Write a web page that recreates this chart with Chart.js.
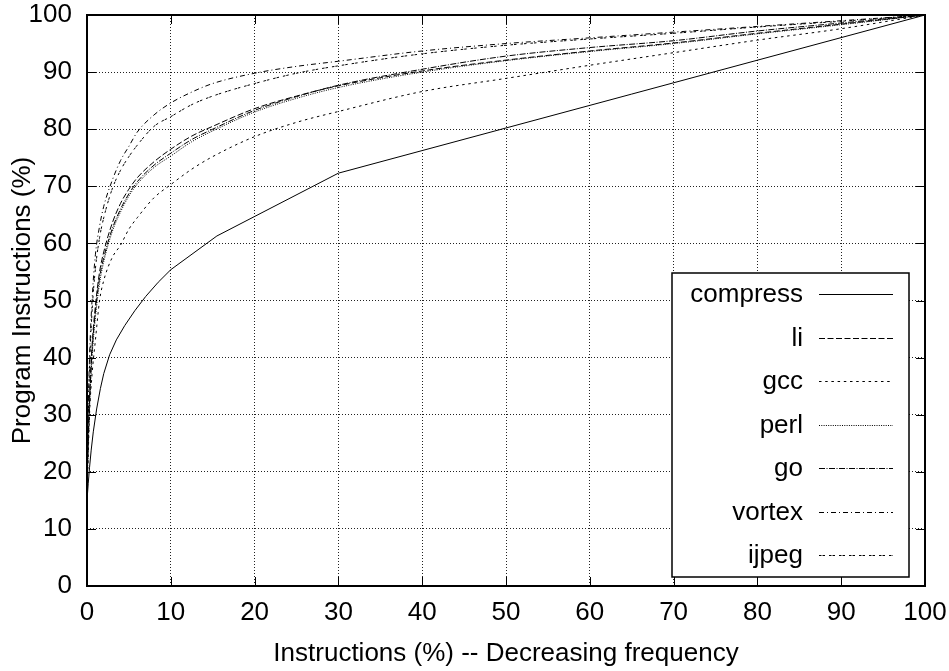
<!DOCTYPE html>
<html>
<head>
<meta charset="utf-8">
<script src="https://cdn.jsdelivr.net/npm/chart.js@4/dist/chart.umd.min.js"></script>
<style>
  html, body { margin: 0; padding: 0; background: #fff; }
  #wrap { width: 949px; height: 671px; }
</style>
</head>
<body>
<div id="wrap"><canvas id="freqChart" width="949" height="671"></canvas></div>
<script>
// Cumulative share of executed instructions, static instructions sorted by decreasing frequency
const xPoints = [0, 0.3, 0.6, 1, 1.5, 2, 3, 4, 5, 6, 8, 10, 12.5, 15, 20, 25, 30, 40, 50, 60, 70, 80, 90, 100];

const liValues     = [18, 33, 42, 49, 55, 58.5, 63.5, 67, 69.5, 71.5, 74.3, 76.5, 78.8, 80.5, 83.6, 85.8, 87.6, 90.2, 92.1, 93.7, 95.1, 96.8, 98.4, 100];
const gccValues    = [15, 30, 37, 43, 50, 53.5, 57.5, 59.7, 62.5, 64.5, 68, 70.3, 73, 75.2, 78.7, 81.2, 83.1, 86.6, 88.9, 91.2, 93.4, 95.6, 97.6, 100];
const perlValues   = [17, 31, 40, 47, 53, 56.8, 62, 65.5, 68.3, 70.4, 73.3, 75.3, 77.8, 79.7, 83, 85.4, 87.3, 90, 92, 93.6, 95, 96.7, 98.3, 100];
const goValues     = [18, 32, 41, 48, 54, 57.5, 62.5, 66, 68.7, 70.8, 73.7, 75.8, 78.2, 80, 83.3, 85.7, 87.7, 90.5, 92.8, 94.3, 95.5, 97.2, 98.6, 100];
const vortexValues = [22, 40, 50, 58, 63, 66.5, 71, 74.5, 77, 79.5, 82.5, 84.6, 86.5, 88, 89.8, 91, 91.9, 93.7, 95, 96, 97, 98, 99, 100];
const ijpegValues  = [20, 38, 48, 55.5, 61, 64.5, 69.5, 72.8, 75.2, 77.2, 80.5, 82.2, 84.3, 85.8, 88, 89.8, 91.1, 93.2, 94.7, 95.8, 96.8, 97.9, 98.9, 100];

// compress has its own breakpoints (curved start, then straight pieces)
const compressX = [0, 0.15, 0.3, 0.5, 0.75, 1.15, 1.6, 2, 2.7, 3.5, 4.5, 5.7, 7, 8.5, 10, 15.5, 30, 100];
const compressY = [15, 18, 20.7, 23.8, 27, 31, 34.6, 37.2, 40.5, 43.1, 45.6, 48.2, 50.7, 53.2, 55.4, 61.3, 72.3, 100];

const axisMin = 0;
const axisMax = 100;
const tickStep = 10;

const FONT = "'Liberation Sans', Arial, Helvetica, sans-serif";
Chart.defaults.font.family = FONT;
Chart.defaults.color = '#000';

function pairs(xs, ys) {
  return xs.map((x, i) => ({ x: x, y: ys[i] }));
}

function series(label, xs, ys, dash) {
  return {
    label: label,
    data: pairs(xs, ys),
    borderColor: '#000',
    borderWidth: 1,
    borderDash: dash,
    pointRadius: 0,
    fill: false,
    cubicInterpolationMode: 'monotone'
  };
}

const datasets = [
  Object.assign(series('compress', compressX, compressY, []), { cubicInterpolationMode: 'default', tension: 0 }),
  series('li', xPoints, liValues, [6, 2.5]),
  series('gcc', xPoints, gccValues, [2.5, 3.7]),
  series('perl', xPoints, perlValues, [1, 1.3]),
  series('go', xPoints, goValues, [6, 1.5, 1, 1.5]),
  series('vortex', xPoints, vortexValues, [5, 3, 1, 3]),
  series('ijpeg', xPoints, ijpegValues, [2.5, 1, 2.5, 4])
];

// hide grid lines that fall on the frame
function gridColor(ctx) {
  const v = ctx.tick ? ctx.tick.value : null;
  return (v === axisMin || v === axisMax) ? 'rgba(0,0,0,0)' : '#222';
}

// gnuplot-style frame, inward ticks and boxed key
const framePlugin = {
  id: 'frameKey',
  afterDatasetsDraw(chart) {
    const { ctx, chartArea: a, scales } = chart;
    const tick = 9;
    ctx.save();

    ctx.strokeStyle = '#000';
    ctx.lineWidth = 1;
    ctx.setLineDash([]);
    ctx.beginPath();
    scales.x.ticks.forEach(t => {
      const px = Math.round(scales.x.getPixelForValue(t.value)) + 0.5;
      ctx.moveTo(px, a.bottom); ctx.lineTo(px, a.bottom - tick);
      ctx.moveTo(px, a.top); ctx.lineTo(px, a.top + tick);
    });
    scales.y.ticks.forEach(t => {
      const py = Math.round(scales.y.getPixelForValue(t.value)) + 0.5;
      ctx.moveTo(a.left, py); ctx.lineTo(a.left + tick, py);
      ctx.moveTo(a.right, py); ctx.lineTo(a.right - tick, py);
    });
    ctx.stroke();

    // key
    const rowH = 43.5;
    const n = chart.data.datasets.length;
    const boxR = a.right - 16;
    const boxL = boxR - 237;
    const boxB = a.bottom - 9;
    const boxT = boxB - (n - 1) * rowH - 43;
    ctx.fillStyle = '#fff';
    ctx.fillRect(boxL, boxT, boxR - boxL, boxB - boxT);
    ctx.lineWidth = 1.5;
    ctx.strokeRect(boxL, boxT, boxR - boxL, boxB - boxT);

    ctx.font = '26px ' + FONT;
    ctx.fillStyle = '#000';
    ctx.textAlign = 'right';
    ctx.textBaseline = 'middle';
    chart.data.datasets.forEach((ds, i) => {
      const cy = boxT + 21 + i * rowH;
      ctx.fillText(ds.label, boxL + 131, cy + 1);
      ctx.lineWidth = ds.borderWidth;
      ctx.setLineDash(ds.borderDash || []);
      ctx.beginPath();
      ctx.moveTo(boxL + 147, Math.round(cy) + 0.5);
      ctx.lineTo(boxL + 221, Math.round(cy) + 0.5);
      ctx.stroke();
    });

    // frame
    ctx.setLineDash([]);
    ctx.lineWidth = 2;
    ctx.strokeRect(a.left, a.top, a.right - a.left, a.bottom - a.top);
    ctx.restore();
  }
};

new Chart(document.getElementById('freqChart').getContext('2d'), {
  type: 'line',
  data: { datasets: datasets },
  options: {
    responsive: false,
    animation: false,
    devicePixelRatio: 1,
    layout: { padding: { top: 15, right: 24, left: 0, bottom: 0 } },
    plugins: {
      legend: { display: false },
      tooltip: { enabled: false }
    },
    scales: {
      x: {
        type: 'linear',
        min: axisMin,
        max: axisMax,
        afterFit(scale) {
          scale.height = 85;
          scale.paddingLeft = 0;
          scale.paddingRight = 0;
        },
        ticks: { stepSize: tickStep, padding: 11, maxRotation: 0, font: { size: 26 }, color: '#000' },
        grid: { color: gridColor, lineWidth: 1, drawTicks: false },
        border: { display: false, dash: [1, 2] },
        title: {
          display: true,
          text: 'Instructions (%) -- Decreasing frequency',
          font: { size: 26 },
          color: '#000',
          padding: { top: 0, bottom: 2 }
        }
      },
      y: {
        type: 'linear',
        min: axisMin,
        max: axisMax,
        afterFit(scale) {
          scale.width = 87;
          scale.paddingTop = 0;
          scale.paddingBottom = 0;
        },
        ticks: { stepSize: tickStep, padding: 15, font: { size: 26 }, color: '#000' },
        grid: { color: gridColor, lineWidth: 1, drawTicks: false },
        border: { display: false, dash: [1, 2] },
        title: {
          display: true,
          text: 'Program Instructions (%)',
          font: { size: 26 },
          color: '#000',
          padding: { top: 7, bottom: 0 }
        }
      }
    }
  },
  plugins: [framePlugin]
});
</script>
</body>
</html>
